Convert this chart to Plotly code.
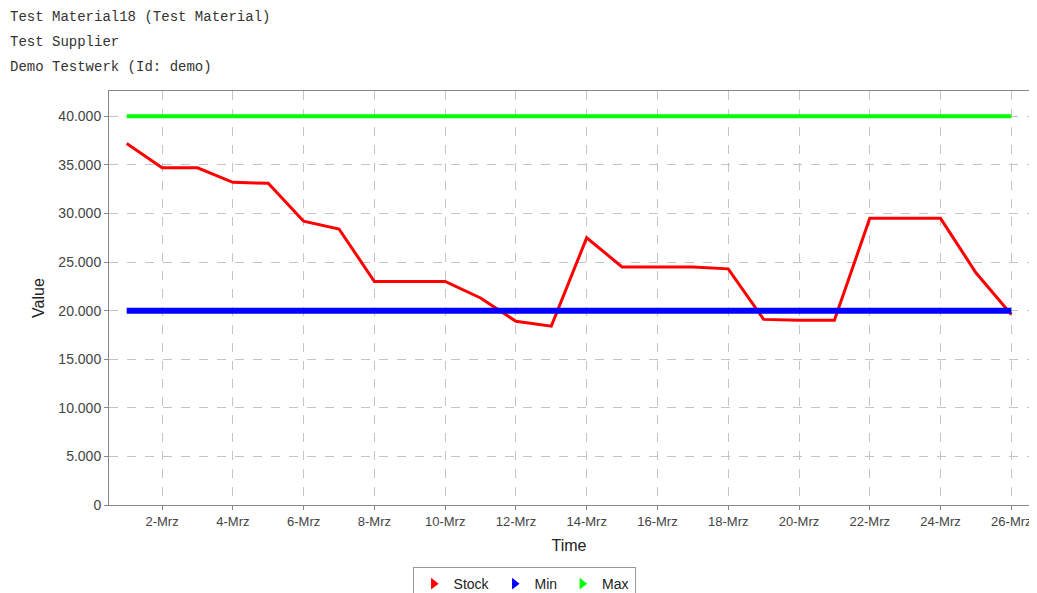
import plotly.graph_objects as go

dates = [f"2024-03-{d:02d}" for d in range(1, 27)]
stock = [37200, 34700, 34700, 33200, 33100, 29200, 28400, 23000, 23000, 23000,
         21300, 18900, 18400, 27500, 24500, 24500, 24500, 24300, 19100, 19000,
         19000, 29500, 29500, 29500, 23900, 19600]
min_vals = [20000] * 26
max_vals = [40000] * 26
header_lines = ["Test Material18 (Test Material)", "Test Supplier", "Demo Testwerk (Id: demo)"]

fig = go.Figure()
series = [("Stock", stock, "#ff0000", 3), ("Min", min_vals, "#0000ff", 6), ("Max", max_vals, "#00ff00", 4)]
for name, vals, color, w in series:
    fig.add_trace(go.Scatter(x=dates, y=vals, mode="lines", name=name,
                             line=dict(color=color, width=w), showlegend=False))
for name, vals, color, w in series:
    fig.add_trace(go.Scatter(x=[None], y=[None], mode="markers", name=name,
                             marker=dict(symbol="triangle-right", color=color, size=10)))

grid = dict(showgrid=True, gridcolor="#c4c4c4", griddash="dash", gridwidth=1,
            showline=True, linecolor="#888888", linewidth=1, mirror=True,
            ticks="outside", ticklen=4, tickcolor="#888888",
            zeroline=False, automargin=False, ticklabeloverflow="allow")

fig.update_xaxes(type="date", range=["2024-02-29 12:00", "2024-03-26 12:00"],
                 tick0="2024-03-02", dtick=2 * 86400000, tickformat="%-d-Mrz",
                 tickfont=dict(family="Liberation Sans", size=13, color="#444444"),
                 title=dict(text="Time", font=dict(family="Liberation Sans", size=16, color="#222"), standoff=12),
                 **grid)
fig.update_yaxes(range=[0, 42600], dtick=5000, tickformat=",",
                 tickfont=dict(family="Liberation Sans", size=14, color="#444444"),
                 title=dict(text="Value", font=dict(family="Liberation Sans", size=16, color="#222"), standoff=9),
                 **grid)

annotations = []
for i, line in enumerate(header_lines):
    annotations.append(dict(text=line, xref="paper", yref="paper", x=-0.1098,
                            y=[1.1787, 1.118, 1.058][i], xanchor="left", yanchor="middle",
                            showarrow=False, font=dict(family="Liberation Mono", size=14, color="#333")))

fig.update_layout(
    width=1029, height=585,
    margin=dict(l=101, r=8, t=83, b=88, autoexpand=False),
    paper_bgcolor="white", plot_bgcolor="white",
    separators=",.",
    annotations=annotations,
    legend=dict(orientation="h", xref="container", yref="container", x=0.5015, y=0.0444,
                xanchor="center", yanchor="top", bordercolor="#999999", borderwidth=1,
                font=dict(family="Liberation Sans", size=14, color="#222"),
                itemwidth=30, tracegroupgap=0),
)
fig.write_html("out.html")
